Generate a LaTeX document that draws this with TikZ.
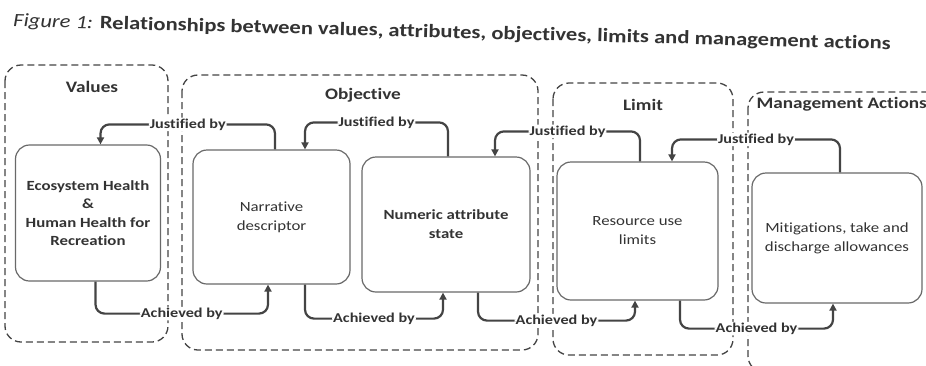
\documentclass[tikz,border=0pt]{standalone}
\usepackage{fontspec}
\setmainfont{Carlito}[FakeStretch=1.2,Ligatures=NoCommon]
\usetikzlibrary{arrows.meta}
\definecolor{ink}{HTML}{333333}
\definecolor{edge}{HTML}{444444}
\begin{document}
\begin{tikzpicture}[x=1pt,y=-1pt,
  box/.style={draw=edge!80,line width=1.2pt,rounded corners=14pt,align=center,text=ink,
    font=\fontsize{14}{19}\selectfont},
  grp/.style={draw=edge,dashed,dash pattern=on 7pt off 4pt,line width=1.3pt,rounded corners=16pt},
  grplbl/.style={text=ink,font=\fontsize{16}{19}\selectfont\bfseries},
  flow/.style={draw=edge,line width=2.2pt,rounded corners=9pt,-{Triangle[length=7pt,width=7pt]}},
  lbl/.style={fill=white,inner sep=1pt,text=ink,font=\fontsize{13.5}{16}\selectfont\bfseries}]
\useasboundingbox (0,0) rectangle (926,365);
\fill[white] (0,0) rectangle (926,365);
\clip (0,0) rectangle (926,365);
% title
\node[text=ink,rotate=-1.5,font=\fontsize{18.8}{22}\selectfont\bfseries] (title) at (452,33)
  {\textit{\mdseries Figure 1:} Relationships between values, attributes, objectives, limits and management actions};
% groups
\draw[grp] (5,65) rectangle (168,342);
\draw[grp] (182,75) rectangle (538,350);
\draw[grp] (553,83) rectangle (733,355);
\draw[grp] (748,92) rectangle (945,372);
\node[grplbl] (vallbl) at (92,87) {Values};
\node[grplbl] (objlbl) at (363,95) {Objective};
\node[grplbl] (limlbl) at (643,105) {Limit};
\node[grplbl,anchor=west] (actlbl) at (753,104) {Management Actions};
% boxes
\node[box,font=\fontsize{14}{18.5}\selectfont\bfseries,minimum width=145pt,minimum height=136pt] (eco) at (88,213)
  {Ecosystem Health\\\&\\Human Health for\\Recreation};
\node[box,minimum width=157pt,minimum height=134pt] (narr) at (271.5,217) {Narrative\\descriptor};
\node[box,font=\fontsize{14}{19}\selectfont\bfseries,minimum width=168pt,minimum height=135pt] (num) at (446,224.5)
  {Numeric attribute\\state};
\node[box,minimum width=161pt,minimum height=138pt] (res) at (637.5,231) {Resource use\\limits};
\node[box,minimum width=170pt,minimum height=130pt] (mit) at (837,238)
  {Mitigations, take and\\discharge allowances};
% justified by
\draw[flow] ([xshift=3.5pt]narr.north) -- ++(0,-25) -| node[lbl,pos=0.25] {Justified by} ([xshift=12.5pt]eco.north);
\draw[flow] ([xshift=2pt]num.north) -- ++(0,-34) -| node[lbl,pos=0.25] {Justified by} ([xshift=33.5pt]narr.north);
\draw[flow] ([xshift=2.5pt]res.north) -- ++(0,-30) -| node[lbl,pos=0.25] {Justified by} ([xshift=49pt]num.north);
\draw[flow] ([xshift=3pt]mit.north) -- ++(0,-33) -| node[lbl,pos=0.25] {Justified by} ([xshift=34.5pt]res.north);
% achieved by
\draw[flow] ([xshift=7.5pt]eco.south) -- ++(0,32) -| node[lbl,pos=0.25] {Achieved by} ([xshift=-3.5pt]narr.south);
\draw[flow] ([xshift=33.5pt]narr.south) -- ++(0,34) -| node[lbl,pos=0.25] {Achieved by} ([xshift=-3pt]num.south);
\draw[flow] ([xshift=32pt]num.south) -- ++(0,28) -| node[lbl,pos=0.25] {Achieved by} ([xshift=-2.5pt]res.south);
\draw[flow] ([xshift=42.5pt]res.south) -- ++(0,28) -| node[lbl,pos=0.25] {Achieved by} ([xshift=-4pt]mit.south);
\end{tikzpicture}
\end{document}
